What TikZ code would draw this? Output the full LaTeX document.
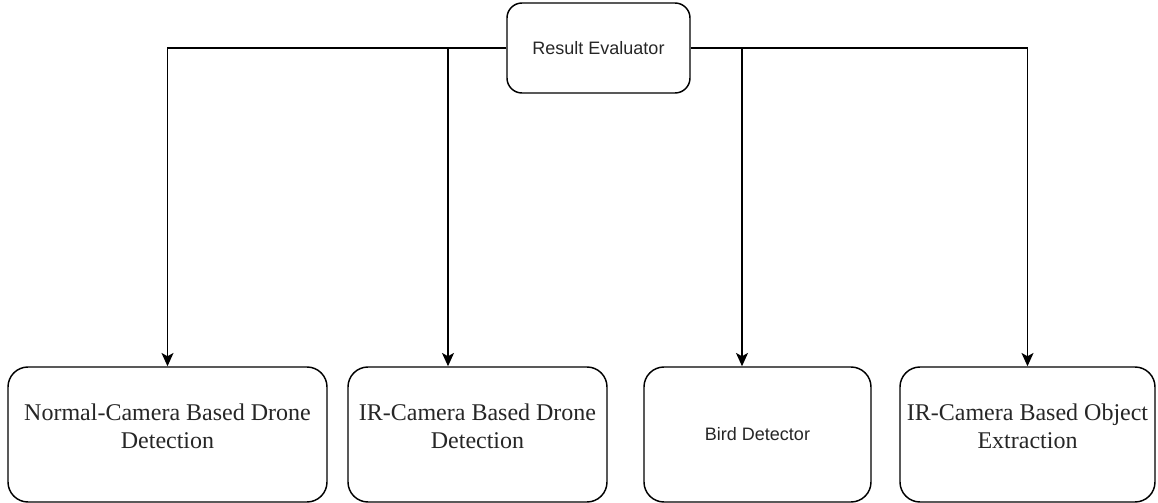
\documentclass[tikz,border=0pt]{standalone}
\usepackage{fontspec}
\setmainfont{Liberation Serif}
\newfontfamily\arialfont{Liberation Sans}
\usetikzlibrary{arrows.meta}
\tikzset{
  box/.style={draw, line width=1.1pt, rounded corners=20*0.75pt, minimum height=135*0.75pt, inner sep=0pt},
  boxtext/.style={font=\fontsize{18}{21}\selectfont, text=black!85, align=center, inner sep=0pt},
  flow/.style={line width=1.1pt, -{Stealth[length=10pt,width=9pt,inset=2.5pt]}}
}
\begin{document}
\begin{tikzpicture}[x=0.75pt,y=-0.75pt]
  \useasboundingbox (0,0) rectangle (1158,503);
  % Hộp trên cùng
  \node[draw, line width=1.1pt, rounded corners=15*0.75pt, minimum width=183*0.75pt, minimum height=90*0.75pt,
        font=\arialfont\fontsize{13.5}{16}\selectfont, text=black!85] (re) at (598.5,48) {Result Evaluator};
  % Bốn hộp phía dưới
  \node[box, minimum width=319*0.75pt] (d1) at (167.5,434.5) {};
  \node[box, minimum width=259*0.75pt] (d2) at (477.5,434.5) {};
  \node[box, minimum width=227*0.75pt, font=\arialfont\fontsize{13.5}{16}\selectfont, text=black!85] (d3) at (757.5,434.5) {Bird Detector};
  \node[box, minimum width=255*0.75pt] (d4) at (1027.5,434.5) {};
  \node[boxtext] (t1) at (167.5,426) {Normal-Camera Based Drone\\Detection};
  \node[boxtext] (t2) at (477.5,426) {IR-Camera Based Drone\\Detection};
  \node[boxtext] (t4) at (1027.5,426) {IR-Camera Based Object\\Extraction};
  % Các điểm rẽ nhánh
  \coordinate (j2) at (448,48);
  \coordinate (j3) at (742,48);
  % Vẽ mũi tên
  \draw[flow] (re.west) -| (d1.north);
  \draw[flow] (re.east) -| (d4.north);
  \draw[flow] (j2) -- (j2 |- d2.north);
  \draw[flow] (j3) -- (j3 |- d3.north);
\end{tikzpicture}
\end{document}
